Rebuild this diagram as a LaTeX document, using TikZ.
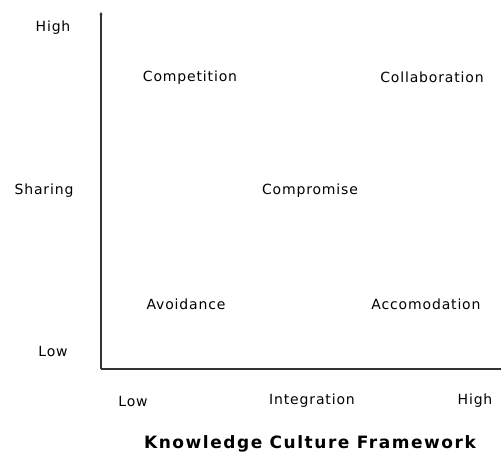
\documentclass[tikz,border=0pt]{standalone}
\usepackage{fontspec}
\setmainfont{DejaVu Sans}[LetterSpace=6]
\usetikzlibrary{arrows.meta,positioning}

\begin{document}
\begin{tikzpicture}[x=1pt,y=1pt,>={Stealth[length=3pt,width=3pt]},
 lbl/.style={inner sep=0pt,font=\fontsize{14}{16}\selectfont},
 ttl/.style={inner sep=0pt,font=\fontsize{17}{19}\selectfont\bfseries\addfontfeatures{LetterSpace=9}}]
\useasboundingbox (0,0) rectangle (501,460);
\coordinate (o) at (101,91);
\coordinate (ytop) at (101,448);
\coordinate (xend) at (501,91);
\draw[line width=1.5pt,black!80,->] (o)--(ytop);
\draw[line width=1.5pt,black!80] (o)--(xend);
% axis labels
\node[lbl] (yhigh) at (53,432) {High};
\node[lbl] (share) at (44,269) {Sharing};
\node[lbl] (ylow) at (53,108) {Low};
\node[lbl] (xlow) at (133,59) {Low};
\node[lbl] (integ) at (312,59) {Integration};
\node[lbl] (xhigh) at (475,59) {High};
% quadrants
\node[lbl] (compet) at (190,382) {Competition};
\node[lbl] (collab) at (432,383) {Collaboration};
\node[lbl] (comprom) at (310,269) {Compromise};
\node[lbl] (avoid) at (186,156) {Avoidance};
\node[lbl] (accom) at (426,156) {Accomodation};
\node[ttl] (title) at (310,16) {Knowledge Culture Framework};
\end{tikzpicture}
\end{document}
